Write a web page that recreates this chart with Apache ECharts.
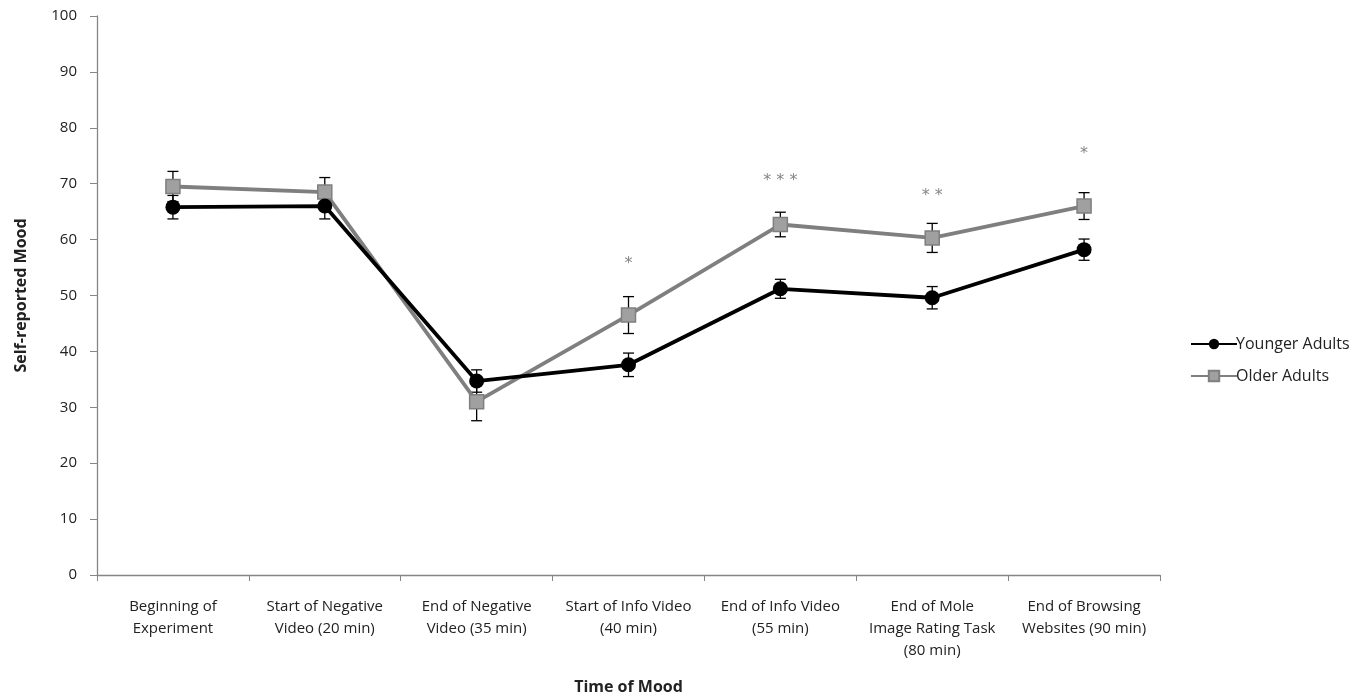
<!DOCTYPE html>
<html><head><meta charset="utf-8">
<script src="https://cdn.jsdelivr.net/npm/echarts@6/dist/echarts.min.js"></script>
<style>html,body{margin:0;padding:0;background:#fff}#c{width:1371px;height:696px}</style>
</head><body><div id="c"></div>
<script>
const categories = ["Beginning of\nExperiment","Start of Negative\nVideo (20 min)","End of Negative\nVideo (35 min)","Start of Info Video\n(40 min)","End of Info Video\n(55 min)","End of Mole\nImage Rating Task\n(80 min)","End of Browsing\nWebsites (90 min)"];
const younger = [65.8, 66.0, 34.7, 37.6, 51.2, 49.6, 58.2];
const youngerErr = [2.1, 2.3, 2.0, 2.1, 1.7, 2.0, 1.9];
const older = [69.5, 68.5, 31.0, 46.5, 62.7, 60.3, 66.0];
const olderErr = [2.7, 2.6, 3.4, 3.3, 2.2, 2.6, 2.4];
const sigLabels = ["", "", "", "*", "* * *", "* *", "*"];
const sigY = [null, null, null, 55.6, 70.5, 67.9, 75.4];
const yTicks = {min: 0, max: 100, interval: 10};

const FONT = "Open Sans";
function errSeries(vals, errs, z) {
  return {
    type: 'custom', z: z, silent: true,
    data: vals.map((v, i) => [i, v - errs[i], v + errs[i]]),
    renderItem: function (params, api) {
      const x = api.value(0);
      const lo = api.coord([x, api.value(1)]);
      const hi = api.coord([x, api.value(2)]);
      const w = 5.5;
      const st = {stroke: '#000', lineWidth: 1.3};
      return {type: 'group', children: [
        {type: 'line', shape: {x1: lo[0], y1: lo[1], x2: hi[0], y2: hi[1]}, style: st},
        {type: 'line', shape: {x1: lo[0]-w, y1: lo[1], x2: lo[0]+w, y2: lo[1]}, style: st},
        {type: 'line', shape: {x1: hi[0]-w, y1: hi[1], x2: hi[0]+w, y2: hi[1]}, style: st}
      ]};
    }
  };
}
const chart = echarts.init(document.getElementById('c'));
chart.setOption({
  animation: false,
  textStyle: {fontFamily: FONT},
  grid: {left: 97, right: 211, top: 16, bottom: 121, containLabel: false, outerBoundsMode: 'none'},
  legend: {
    orient: 'vertical', left: 1185, top: 331, itemGap: 16,
    itemWidth: 46, itemHeight: 13,
    textStyle: {fontFamily: FONT, fontSize: 16, color: '#222', padding: [0,0,0,-6]},
    data: ['Younger Adults', 'Older Adults']
  },
  xAxis: {
    type: 'category', data: categories, boundaryGap: true,
    name: 'Time of Mood', nameLocation: 'middle', nameGap: 104,
    nameTextStyle: {fontFamily: FONT, fontSize: 16, fontWeight: 'bold', color: '#222'},
    axisLine: {lineStyle: {color: '#868686', width: 1.3}},
    axisTick: {show: true, length: 6, lineStyle: {color: '#868686'}},
    axisLabel: {interval: 0, margin: 21, fontSize: 15, lineHeight: 22, color: '#222', fontFamily: FONT, verticalAlign: 'top'}
  },
  yAxis: {
    type: 'value', min: yTicks.min, max: yTicks.max, interval: yTicks.interval,
    name: 'Self-reported Mood', nameLocation: 'middle', nameGap: 68, nameRotate: 90,
    nameTextStyle: {fontFamily: FONT, fontSize: 16, fontWeight: 'bold', color: '#222'},
    axisLine: {show: true, lineStyle: {color: '#868686', width: 1.3}},
    axisTick: {show: true, length: 7, lineStyle: {color: '#868686'}},
    splitLine: {show: false},
    axisLabel: {fontSize: 15, margin: 20, color: '#222', fontFamily: FONT}
  },
  series: [
    errSeries(older, olderErr, 1),
    errSeries(younger, youngerErr, 1),
    {
      name: 'Older Adults', type: 'line', data: older, z: 3,
      symbol: 'rect', symbolSize: 14,
      lineStyle: {color: '#7f7f7f', width: 3.8},
      itemStyle: {color: '#a0a0a0', borderColor: '#7f7f7f', borderWidth: 1.5}
    },
    {
      name: 'Younger Adults', type: 'line', data: younger, z: 4,
      symbol: 'circle', symbolSize: 15,
      lineStyle: {color: '#000', width: 3.8},
      itemStyle: {color: '#000', borderColor: '#000', borderWidth: 0}
    },
    {
      type: 'scatter', symbolSize: 0, silent: true, z: 5,
      data: sigY.map((v, i) => [i, v, sigLabels[i]]).filter(d => d[1] !== null),
      label: {show: true, position: 'inside', formatter: p => p.value[2],
        color: '#666', fontSize: 16, fontFamily: 'DejaVu Sans'}
    }
  ]
});
</script></body></html>
